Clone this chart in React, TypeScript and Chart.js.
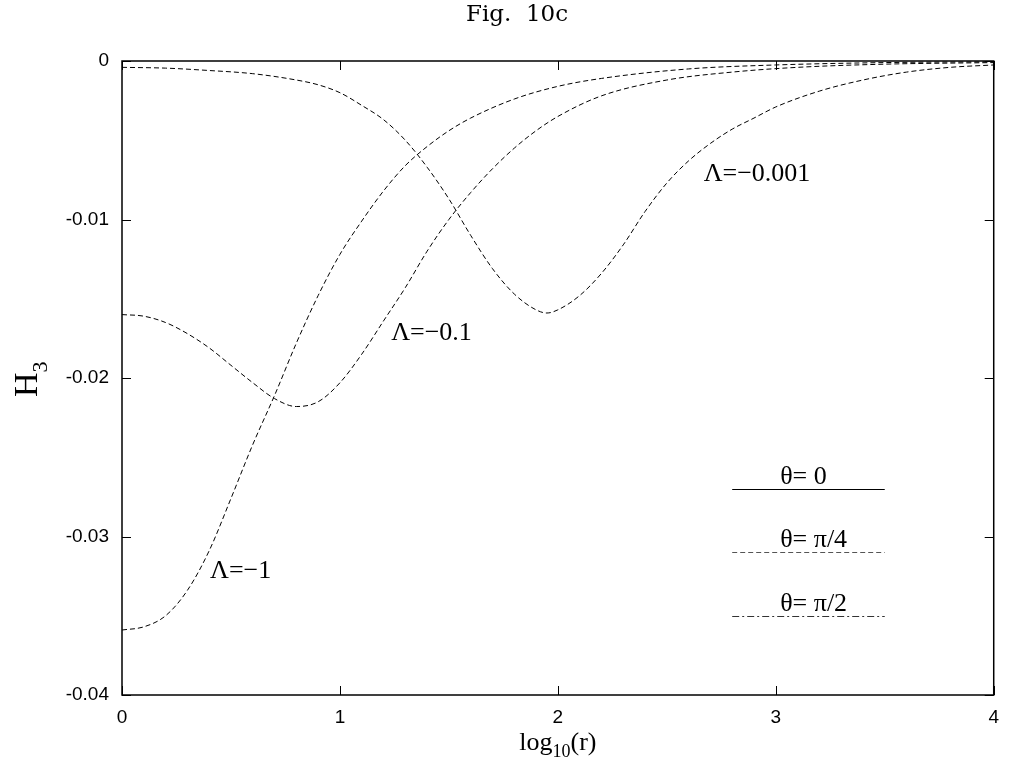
import React, { useEffect, useRef } from "react";
import { Chart, registerables } from "chart.js";
Chart.register(...registerables);

const xTicks = [0, 1, 2, 3, 4];
const yTicks = [0, -0.01, -0.02, -0.03, -0.04];

const lam1X = [0, 0.1, 0.2, 0.3, 0.4, 0.5, 0.6, 0.7, 0.8, 0.9, 1.0, 1.1, 1.2, 1.3, 1.4, 1.5, 1.6, 1.8, 2.0, 2.2, 2.6, 3.0, 3.5, 4.0];
const lam1Y = [-0.0359, -0.0357, -0.035, -0.0334, -0.0309, -0.0276, -0.0242, -0.0211, -0.0178, -0.0148, -0.0122, -0.0101, -0.0082, -0.0066, -0.0054, -0.0044, -0.0036, -0.0024, -0.0016, -0.0011, -0.0005, -0.00025, -0.0001, -0.00005];

const lam2X = [0, 0.1, 0.2, 0.3, 0.4, 0.5, 0.6, 0.7, 0.8, 0.9, 1.0, 1.1, 1.2, 1.3, 1.4, 1.5, 1.6, 1.7, 1.8, 1.9, 2.0, 2.2, 2.5, 2.8, 3.1, 3.5, 4.0];
const lam2Y = [-0.016, -0.0161, -0.0165, -0.0172, -0.0181, -0.0192, -0.0203, -0.0213, -0.0218, -0.0215, -0.0203, -0.0185, -0.0164, -0.0143, -0.012, -0.01, -0.0083, -0.0068, -0.0055, -0.0044, -0.0035, -0.0022, -0.0012, -0.0007, -0.0004, -0.0002, -0.0001];

const lam3X = [0, 0.2, 0.4, 0.6, 0.8, 0.9, 1.0, 1.1, 1.2, 1.3, 1.4, 1.5, 1.6, 1.7, 1.8, 1.9, 1.95, 2.0, 2.1, 2.2, 2.3, 2.4, 2.5, 2.6, 2.7, 2.8, 2.9, 3.0, 3.2, 3.4, 3.6, 3.8, 4.0];
const lam3Y = [-0.0004, -0.00045, -0.0006, -0.0008, -0.0012, -0.0015, -0.002, -0.0028, -0.0037, -0.005, -0.0067, -0.0087, -0.011, -0.0131, -0.0147, -0.0157, -0.0159, -0.0157, -0.0148, -0.0134, -0.0116, -0.0095, -0.0077, -0.0063, -0.0052, -0.0043, -0.0036, -0.0029, -0.0019, -0.0012, -0.0007, -0.0004, -0.00025];

const curveLabels = ["Λ=−1", "Λ=−0.1", "Λ=−0.001"];
const curveLabelX = [0.404, 1.235, 2.669];
const curveLabelY = [-0.0326, -0.0176, -0.00755];

const legendLabels = ["θ= 0", "θ= π/4", "θ= π/2"];
const legendLineY = [-0.027, -0.031, -0.035];
const legendLineX = [2.8, 3.5];
const legendTextX = 3.02;
const legendDashes: number[][] = [[], [5, 3], [7, 3, 2, 3]];
const legendColors = ["#000", "#555", "#333"];

const titleText = "Fig.  10c";

const SERIF = "'Liberation Serif', 'Times New Roman', serif";
const SANS = "'Liberation Sans', Arial, sans-serif";

const decorPlugin = {
  id: "decor",
  afterDraw(chart: any) {
    const ctx = chart.ctx;
    const a = chart.chartArea;
    const xs = chart.scales.x;
    const ys = chart.scales.y;
    ctx.save();
    ctx.strokeStyle = "#000";
    ctx.lineWidth = 1.5;
    ctx.setLineDash([]);
    ctx.strokeRect(a.left, a.top, a.right - a.left, a.bottom - a.top);
    ctx.lineWidth = 1;
    const tl = 9;
    ctx.beginPath();
    xTicks.forEach((v) => {
      const px = Math.round(xs.getPixelForValue(v)) + 0.5;
      ctx.moveTo(px, a.bottom);
      ctx.lineTo(px, a.bottom - tl);
      ctx.moveTo(px, a.top);
      ctx.lineTo(px, a.top + tl);
    });
    yTicks.forEach((v) => {
      const py = Math.round(ys.getPixelForValue(v)) + 0.5;
      ctx.moveTo(a.left, py);
      ctx.lineTo(a.left + tl, py);
      ctx.moveTo(a.right, py);
      ctx.lineTo(a.right - tl, py);
    });
    ctx.stroke();

    ctx.fillStyle = "#000";
    ctx.font = `26px ${SERIF}`;
    ctx.textAlign = "left";
    ctx.textBaseline = "alphabetic";
    curveLabels.forEach((t, i) => {
      ctx.fillText(t, xs.getPixelForValue(curveLabelX[i]), ys.getPixelForValue(curveLabelY[i]));
    });

    legendLabels.forEach((t, i) => {
      const py = Math.round(ys.getPixelForValue(legendLineY[i])) + 0.5;
      ctx.fillText(t, xs.getPixelForValue(legendTextX), py - 6);
      ctx.beginPath();
      ctx.strokeStyle = legendColors[i];
      ctx.setLineDash(legendDashes[i]);
      ctx.moveTo(xs.getPixelForValue(legendLineX[0]), py);
      ctx.lineTo(xs.getPixelForValue(legendLineX[1]), py);
      ctx.stroke();
    });
    ctx.setLineDash([]);

    ctx.font = `23px 'DejaVu Serif', serif`;
    ctx.textAlign = "center";
    ctx.fillText(titleText, chart.width / 2 + 12, 21);

    const big = `26px ${SERIF}`;
    const small = `18px ${SERIF}`;
    ctx.textAlign = "left";
    ctx.font = big;
    const w1 = ctx.measureText("log").width;
    const w3 = ctx.measureText("(r)").width;
    ctx.font = small;
    const w2 = ctx.measureText("10").width;
    const total = w1 + w2 + w3;
    const cx = (a.left + a.right) / 2;
    const x0 = cx - total / 2;
    const base = 750;
    ctx.font = big;
    ctx.fillText("log", x0, base);
    ctx.font = small;
    ctx.fillText("10", x0 + w1, base + 7);
    ctx.font = big;
    ctx.fillText("(r)", x0 + w1 + w2, base);

    ctx.save();
    ctx.translate(37, 397);
    ctx.rotate(-Math.PI / 2);
    ctx.font = `34px ${SERIF}`;
    const wh = ctx.measureText("H").width;
    ctx.fillText("H", 0, 0);
    ctx.font = `22px ${SERIF}`;
    ctx.fillText("3", wh, 10);
    ctx.restore();

    ctx.restore();
  },
};

export default function App() {
  const ref = useRef<HTMLCanvasElement | null>(null);
  useEffect(() => {
    if (!ref.current) return;
    const mk = (xsArr: number[], ysArr: number[]) => ({
      data: xsArr.map((x, i) => ({ x, y: ysArr[i] })),
      borderColor: "#000",
      borderWidth: 1,
      borderDash: [5, 3],
      pointRadius: 0,
      fill: false,
      cubicInterpolationMode: "monotone" as const,
    });
    const chart = new Chart(ref.current, {
      type: "line",
      data: {
        datasets: [mk(lam1X, lam1Y), mk(lam2X, lam2Y), mk(lam3X, lam3Y)],
      },
      options: {
        animation: false,
        responsive: true,
        maintainAspectRatio: false,
        layout: { padding: { left: 0, right: 9, top: 61, bottom: 0 } },
        plugins: {
          legend: { display: false },
          tooltip: { enabled: false },
          title: { display: false },
        },
        scales: {
          x: {
            type: "linear",
            min: 0,
            max: 4,
            afterBuildTicks: (s: any) => {
              s.ticks = xTicks.map((v) => ({ value: v }));
            },
            afterFit: (s: any) => {
              s.height = 72;
            },
            grid: { display: false, drawTicks: false },
            border: { display: false },
            ticks: {
              padding: 11,
              color: "#000",
              maxRotation: 0,
              font: { family: SANS, size: 19 },
              callback: (v: any) => String(v),
            },
          },
          y: {
            type: "linear",
            min: -0.04,
            max: 0,
            afterBuildTicks: (s: any) => {
              s.ticks = yTicks.map((v) => ({ value: v }));
            },
            afterFit: (s: any) => {
              s.width = 122;
            },
            grid: { display: false, drawTicks: false },
            border: { display: false },
            ticks: {
              padding: 13,
              color: "#000",
              font: { family: SANS, size: 19 },
              callback: (v: any) => (Math.abs(v) < 1e-9 ? "0" : Number(v).toFixed(2)),
            },
          },
        },
      },
      plugins: [decorPlugin],
    });
    return () => chart.destroy();
  }, []);
  return (
    <div style={{ position: "fixed", left: 0, top: 0, width: 1010, height: 767, background: "#fff" }}>
      <canvas ref={ref} />
    </div>
  );
}
